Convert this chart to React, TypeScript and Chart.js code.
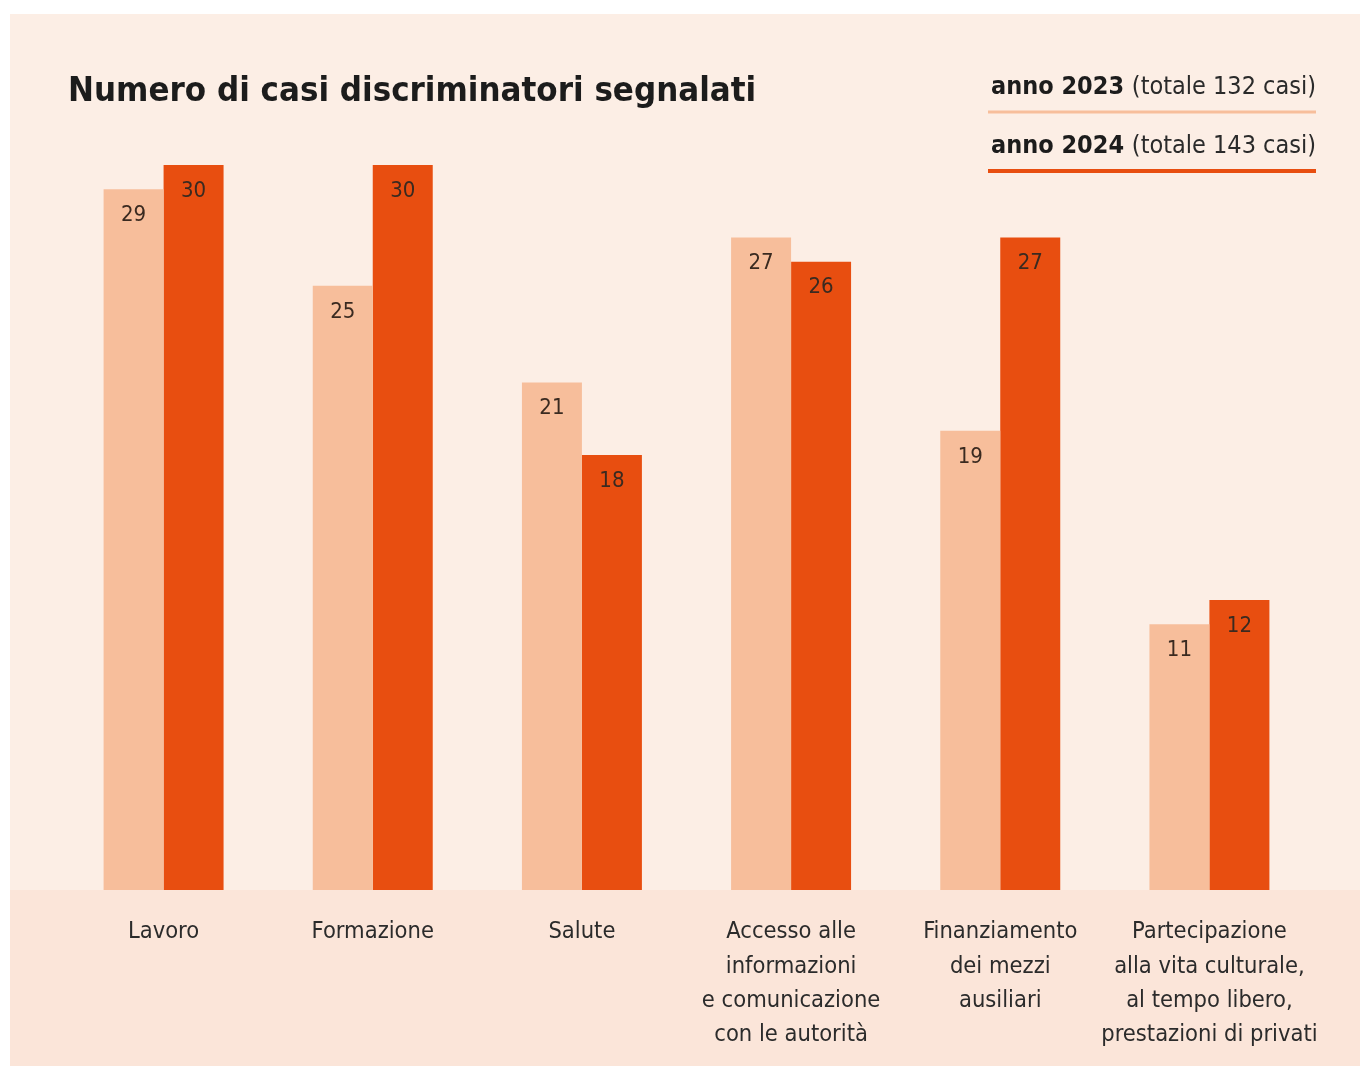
import React, { useEffect, useRef } from "react";
import { Chart, registerables } from "chart.js";

Chart.register(...registerables);

const categories: string[][] = [
  ["Lavoro"],
  ["Formazione"],
  ["Salute"],
  ["Accesso alle", "informazioni", "e comunicazione", "con le autorità"],
  ["Finanziamento", "dei mezzi", "ausiliari"],
  ["Partecipazione", "alla vita culturale,", "al tempo libero,", "prestazioni di privati"],
];
const values2023: number[] = [29, 25, 21, 27, 19, 11];
const values2024: number[] = [30, 30, 18, 26, 27, 12];
const seriesNames: string[] = ["anno 2023", "anno 2024"];
const seriesNotes: string[] = ["(totale 132 casi)", "(totale 143 casi)"];
const titleText = "Numero di casi discriminatori segnalati";

const FONT = "'DejaVu Sans Condensed', 'Roboto', 'DejaVu Sans', sans-serif";
const LIGHT = "#F7BE9B";
const DARK = "#E84E10";
const PANEL = "#FCEEE5";
const BAND = "#FBE5D9";
const TEXT = "#2b2b2b";

const decorPlugin = {
  id: "decor",
  beforeDraw(chart: any) {
    const { ctx, width, height } = chart;
    ctx.save();
    ctx.fillStyle = "#ffffff";
    ctx.fillRect(0, 0, width, height);
    ctx.fillStyle = PANEL;
    ctx.fillRect(10, 14, 1350, height - 14);
    ctx.fillStyle = BAND;
    ctx.fillRect(10, chart.chartArea.bottom, 1350, height - chart.chartArea.bottom);
    ctx.restore();
  },
  afterDraw(chart: any) {
    const { ctx } = chart;
    ctx.save();
    // title
    ctx.fillStyle = "#1c1c1c";
    ctx.font = `bold 34.5px ${FONT}`;
    ctx.textAlign = "left";
    ctx.textBaseline = "alphabetic";
    ctx.fillText(titleText, 68, 101);
    // legend
    const right = 1316;
    const left = 988;
    const baselines = [94, 153];
    const lineYs = [112, 171];
    const lineW = [3, 4];
    const colors = [LIGHT, DARK];
    for (let i = 0; i < 2; i++) {
      ctx.font = `25px ${FONT}`;
      const noteW = ctx.measureText(seriesNotes[i]).width;
      ctx.fillStyle = "#2a2a2a";
      ctx.textAlign = "right";
      ctx.fillText(seriesNotes[i], right, baselines[i]);
      ctx.font = `bold 25px ${FONT}`;
      ctx.fillStyle = "#1c1c1c";
      ctx.fillText(seriesNames[i] + " ", right - noteW, baselines[i]);
      ctx.fillStyle = colors[i];
      ctx.fillRect(left, lineYs[i] - lineW[i] / 2, right - left, lineW[i]);
    }
    ctx.restore();
  },
  afterDatasetsDraw(chart: any) {
    const { ctx } = chart;
    ctx.save();
    ctx.font = `22px ${FONT}`;
    ctx.fillStyle = "#3a2a20";
    ctx.textAlign = "center";
    ctx.textBaseline = "middle";
    chart.data.datasets.forEach((ds: any, di: number) => {
      const meta = chart.getDatasetMeta(di);
      meta.data.forEach((el: any, i: number) => {
        ctx.fillText(String(ds.data[i]), el.x, el.y + 26);
      });
    });
    ctx.restore();
  },
};

export default function App() {
  const ref = useRef<HTMLCanvasElement | null>(null);
  useEffect(() => {
    if (!ref.current) return;
    const chart = new Chart(ref.current, {
      type: "bar",
      data: {
        labels: categories,
        datasets: [
          { label: seriesNames[0], data: values2023, backgroundColor: LIGHT, borderWidth: 0 },
          { label: seriesNames[1], data: values2024, backgroundColor: DARK, borderWidth: 0 },
        ],
      },
      options: {
        animation: false,
        responsive: false,
        devicePixelRatio: 1,
        layout: { padding: { left: 59, right: 48, top: 165, bottom: 0 } },
        datasets: { bar: { barPercentage: 1, categoryPercentage: 120 / 209.2 } },
        plugins: { legend: { display: false }, title: { display: false }, tooltip: { enabled: false } },
        scales: {
          y: { display: false, min: 0, max: 30 },
          x: {
            grid: { display: false, drawTicks: false },
            border: { display: false },
            afterFit: (scale: any) => {
              scale.height = 176;
            },
            ticks: {
              color: TEXT,
              padding: 25,
              maxRotation: 0,
              autoSkip: false,
              font: { family: FONT, size: 23.5, lineHeight: 1.46 },
            },
          },
        },
      },
      plugins: [decorPlugin],
    });
    return () => chart.destroy();
  }, []);
  return (
    <div style={{ position: "absolute", left: 0, top: 0, width: 1362, height: 1066, background: "#fff" }}>
      <canvas ref={ref} width={1362} height={1066} style={{ display: "block" }} />
    </div>
  );
}
